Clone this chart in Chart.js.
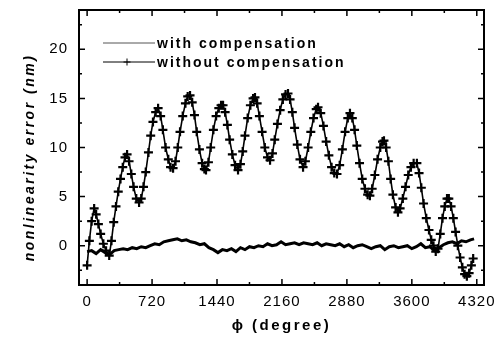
<!DOCTYPE html>
<html lang="en">
<head>
<meta charset="UTF-8">
<title>Nonlinearity error vs phase</title>
<script src="https://cdn.jsdelivr.net/npm/chart.js"></script>
<style>
  body { margin: 0; background: #fff; }
  #wrap { width: 495px; height: 340px; }
</style>
</head>
<body>
<div id="wrap"><canvas id="errChart" width="495" height="340"></canvas></div>
<script>
// phase (degree) and nonlinearity error (nm)
const phiWithout = [0, 25, 50, 78, 100, 125, 150, 180, 210, 245, 270, 295, 320, 345, 370, 395, 420, 443, 465, 490,
  515, 545, 576, 600, 625, 650, 680, 705, 730, 760, 787, 815, 840, 870, 900, 925, 953, 980, 1005, 1030,
  1060, 1090, 1115, 1141, 1165, 1190, 1215, 1245, 1275, 1300, 1318, 1345, 1370, 1400, 1430, 1460, 1485, 1507, 1530, 1555,
  1580, 1610, 1640, 1673, 1700, 1725, 1750, 1780, 1810, 1840, 1861, 1885, 1910, 1940, 1970, 2000, 2028, 2055, 2080, 2110,
  2140, 2170, 2200, 2227, 2250, 2275, 2300, 2330, 2360, 2394, 2420, 2450, 2480, 2510, 2540, 2560, 2590, 2620, 2650, 2680,
  2710, 2740, 2770, 2800, 2830, 2860, 2890, 2914, 2940, 2965, 2990, 3020, 3050, 3080, 3110, 3135, 3160, 3190, 3220, 3250,
  3275, 3291, 3315, 3340, 3365, 3390, 3420, 3446, 3470, 3500, 3530, 3560, 3590, 3620, 3656, 3680, 3705, 3730, 3760, 3790,
  3815, 3840, 3865, 3890, 3915, 3940, 3965, 3990, 4010, 4035, 4060, 4085, 4110, 4135, 4160, 4185, 4210, 4235, 4260, 4280];
const errWithout = [-2.0, 0.5, 2.5, 3.8, 3.2, 2.2, 1.2, 0.2, -0.5, -1.0, 0.5, 2.4, 4.0, 5.5, 6.8, 8.0, 9.0, 9.3, 8.6, 7.3,
  6.0, 4.8, 4.4, 4.8, 6.0, 7.5, 9.5, 11.2, 12.6, 13.6, 14.0, 13.2, 11.8, 10.0, 8.8, 8.0, 7.9, 8.6, 10.0, 11.6,
  13.2, 14.5, 15.2, 15.3, 14.6, 13.3, 11.6, 9.8, 8.4, 7.8, 7.7, 8.5, 10.0, 11.8, 13.2, 14.0, 14.3, 14.3, 13.6, 12.3,
  10.8, 9.3, 8.2, 7.7, 8.3, 9.6, 11.2, 13.0, 14.3, 15.0, 15.1, 14.5, 13.2, 11.6, 10.0, 9.0, 8.7, 9.4, 10.8, 12.4,
  13.8, 14.9, 15.4, 15.5, 14.9, 13.6, 12.0, 10.3, 8.8, 8.0, 8.6, 10.0, 11.6, 13.0, 13.9, 14.1, 13.5, 12.2, 10.6, 9.2,
  8.0, 7.4, 7.3, 8.2, 9.8, 11.6, 13.0, 13.5, 13.0, 11.8, 10.2, 8.4, 6.8, 5.8, 5.2, 5.1, 5.8, 7.2, 8.8, 10.0,
  10.6, 10.7, 10.0, 8.6, 6.8, 5.2, 3.9, 3.4, 3.8, 4.8, 6.0, 7.2, 8.0, 8.4, 8.4, 7.4, 5.9, 4.3, 2.8, 1.6,
  0.6, 0.0, -0.6, -0.3, 1.2, 2.8, 4.0, 4.8, 4.8, 4.0, 2.8, 1.4, 0.0, -1.2, -2.2, -2.9, -3.1, -2.8, -2.0, -1.3];

const phiWith = [0, 50, 100, 150, 200, 250, 300, 350, 400, 450, 500, 550, 600, 650, 700, 750, 800, 850, 900, 950,
  1000, 1050, 1100, 1150, 1200, 1250, 1300, 1350, 1400, 1450, 1500, 1550, 1600, 1650, 1700, 1750, 1800, 1850, 1900, 1950,
  2000, 2050, 2100, 2150, 2200, 2250, 2300, 2350, 2400, 2450, 2500, 2550, 2600, 2650, 2700, 2750, 2800, 2850, 2900, 2950,
  3000, 3050, 3100, 3150, 3200, 3250, 3300, 3350, 3400, 3450, 3500, 3550, 3600, 3650, 3700, 3750, 3800, 3850, 3900, 3950,
  4000, 4050, 4100, 4150, 4200, 4250, 4290];
const errWith = [-0.6, -0.5, -0.8, -0.4, -0.7, -0.9, -0.5, -0.4, -0.3, -0.4, -0.2, -0.3, -0.1, -0.2, 0.0, 0.2, 0.1, 0.4, 0.5, 0.6,
  0.7, 0.5, 0.6, 0.4, 0.3, 0.1, 0.2, -0.2, -0.4, -0.7, -0.4, -0.5, -0.3, -0.6, -0.2, -0.4, -0.1, -0.2, 0.0, -0.1,
  0.2, 0.0, 0.1, 0.4, 0.1, 0.2, 0.3, 0.1, 0.3, 0.2, 0.1, 0.3, 0.0, 0.2, 0.1, 0.0, 0.2, -0.1, 0.1, -0.2,
  0.0, 0.1, -0.1, -0.3, -0.1, 0.0, -0.4, -0.1, 0.0, -0.2, -0.1, 0.0, -0.3, -0.1, 0.2, -0.2, -0.1, -0.5, -0.2, 0.1,
  0.3, 0.4, 0.2, 0.5, 0.4, 0.6, 0.7];

const xTicks = [0, 720, 1440, 2160, 2880, 3600, 4320];
const yTicks = [0, 5, 10, 15, 20];

const FONT = '"Liberation Sans", Arial, Helvetica, sans-serif';

// the original lettering is widely tracked; dy nudges the title along the page
function wideTitle(scale, dy) {
    if (scale._wideTitle) return;
    const orig = scale.drawTitle.bind(scale);
    scale.drawTitle = function () {
        const c = this.ctx;
        const prev = c.letterSpacing;
        c.save();
        c.translate(0, dy || 0);
        c.letterSpacing = '2.5px';
        orig();
        c.restore();
        c.letterSpacing = prev;
    };
    scale._wideTitle = true;
}

const tracking = {
    id: 'tracking',
    beforeLayout(chart) { chart.ctx.letterSpacing = '1px'; },
    beforeDraw(chart) { chart.ctx.letterSpacing = '1px'; }
};

// frame plus inward major / minor ticks on all four sides
const frameTicks = {
    id: 'frameTicks',
    afterDraw(chart) {
        const { ctx, chartArea: a, scales: { x, y } } = chart;
        const minors = (scale, vals) => {
            const st = vals[1] - vals[0];
            const out = [];
            for (let v = vals[0] - st / 2; v <= vals[vals.length - 1] + st / 2; v += st) {
                if (v >= scale.min && v <= scale.max) out.push(v);
            }
            return out;
        };
        ctx.save();
        ctx.strokeStyle = '#000';
        ctx.lineWidth = 1.5;
        ctx.beginPath();
        const xt = (v, len) => {
            const px = x.getPixelForValue(v);
            ctx.moveTo(px, a.bottom); ctx.lineTo(px, a.bottom - len);
            ctx.moveTo(px, a.top); ctx.lineTo(px, a.top + len);
        };
        const yt = (v, len) => {
            const py = y.getPixelForValue(v);
            ctx.moveTo(a.left, py); ctx.lineTo(a.left + len, py);
            ctx.moveTo(a.right, py); ctx.lineTo(a.right - len, py);
        };
        xTicks.forEach(v => xt(v, 6));
        minors(x, xTicks).forEach(v => xt(v, 3));
        yTicks.forEach(v => yt(v, 6));
        minors(y, yTicks).forEach(v => yt(v, 3));
        ctx.stroke();
        ctx.lineWidth = 2;
        ctx.strokeRect(a.left, a.top, a.right - a.left, a.bottom - a.top);
        ctx.restore();
    }
};

const insideLegend = {
    id: 'insideLegend',
    afterDraw(chart) {
        const { ctx, chartArea: a } = chart;
        ctx.save();
        ctx.font = 'bold 14px ' + FONT;
        ctx.letterSpacing = '2px';
        ctx.textBaseline = 'middle';
        ctx.fillStyle = '#000';
        chart.data.datasets.forEach((ds, i) => {
            const yy = a.top + 33 + i * 19;
            const x0 = a.left + 24, x1 = a.left + 76;
            ctx.strokeStyle = i === 0 ? '#555' : '#000';
            ctx.lineWidth = 1;
            ctx.beginPath();
            ctx.moveTo(x0, yy); ctx.lineTo(x1, yy);
            if (ds.pointStyle === 'cross') {
                const cx = a.left + 48;
                ctx.moveTo(cx - 3.5, yy); ctx.lineTo(cx + 3.5, yy);
                ctx.moveTo(cx, yy - 3.5); ctx.lineTo(cx, yy + 3.5);
            }
            ctx.stroke();
            ctx.fillText(ds.label, x1 + 2, yy + 1);
        });
        ctx.restore();
    }
};

const ctx = document.getElementById('errChart').getContext('2d');
new Chart(ctx, {
    type: 'line',
    data: {
        datasets: [{
            label: 'with compensation',
            data: phiWith.map((p, i) => ({ x: p, y: errWith[i] })),
            borderColor: '#000',
            borderWidth: 3,
            pointRadius: 0,
            tension: 0
        }, {
            label: 'without compensation',
            data: phiWithout.map((p, i) => ({ x: p, y: errWithout[i] })),
            borderColor: '#000',
            borderWidth: 1.6,
            pointStyle: 'cross',
            pointRadius: 4.5,
            pointBorderWidth: 2.2,
            pointBorderColor: '#000',
            tension: 0
        }]
    },
    options: {
        responsive: false,
        animation: false,
        events: [],
        layout: { padding: { left: 4, right: 11, top: 10, bottom: 4 } },
        plugins: { legend: { display: false }, tooltip: { enabled: false } },
        scales: {
            x: {
                type: 'linear',
                min: -90,
                max: 4400,
                afterBuildTicks: s => { s.ticks = xTicks.map(v => ({ value: v })); },
                afterFit: s => { s.height = 51; s.paddingLeft = 0; s.paddingRight = 0; wideTitle(s, 0); },
                grid: { display: false, drawTicks: false },
                border: { display: false },
                ticks: {
                    color: '#000', font: { family: FONT, size: 15 }, padding: 8, maxRotation: 0, autoSkip: false,
                    callback: v => String(v)
                },
                title: {
                    display: true, text: 'ϕ (degree)', color: '#000',
                    font: { family: FONT, size: 15, weight: 'bold' },
                    padding: { top: 4, bottom: 1 }
                }
            },
            y: {
                min: -4,
                max: 24,
                afterBuildTicks: s => { s.ticks = yTicks.map(v => ({ value: v })); },
                afterFit: s => { s.width = 75; s.paddingTop = 0; s.paddingBottom = 0; wideTitle(s, 10); },
                grid: { display: false, drawTicks: false },
                border: { display: false },
                ticks: { color: '#000', font: { family: FONT, size: 15 }, padding: 11, callback: v => String(v) },
                title: {
                    display: true, text: 'nonlinearity error (nm)', color: '#000',
                    font: { family: FONT, size: 14, weight: 'bold', style: 'italic' },
                    padding: { top: 18, bottom: 0 }
                }
            }
        }
    },
    plugins: [tracking, frameTicks, insideLegend]
});
</script>
</body>
</html>
